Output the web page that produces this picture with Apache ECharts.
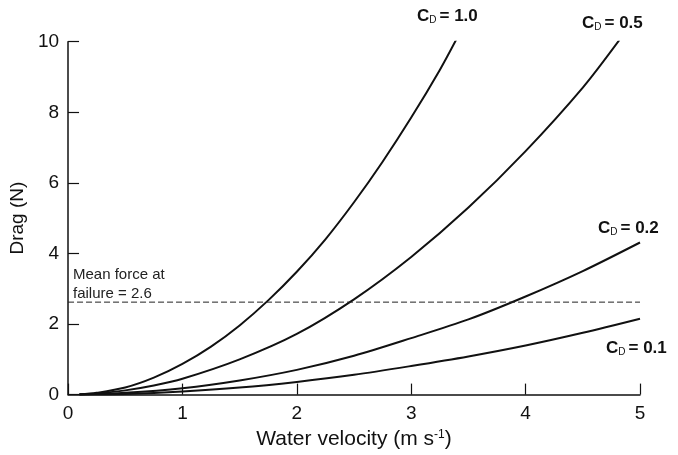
<!DOCTYPE html>
<html><head><meta charset="utf-8">
<script src="https://cdn.jsdelivr.net/npm/echarts@6/dist/echarts.min.js"></script>
<style>html,body{margin:0;padding:0;background:#fff}#c{width:678px;height:455px}</style>
</head><body><div id="c"></div>
<script>
// Data
var cd10 = [[0.1,0],[0.25,0.05],[0.5,0.2],[0.75,0.48],[1.0,0.87],[1.25,1.36],[1.5,1.96],[1.75,2.67],[2.0,3.48],[2.25,4.4],[2.5,5.45],[2.75,6.6],[3.0,7.85],[3.25,9.2],[3.4,10.1]];
var cd05 = [[0.1,0],[0.25,0.03],[0.5,0.12],[0.75,0.26],[1.0,0.45],[1.5,1.0],[2.0,1.72],[2.5,2.7],[3.0,3.9],[3.5,5.3],[4.0,6.9],[4.5,8.7],[4.82,10.05]];
var cd02 = [[0.1,0],[0.5,0.05],[1.0,0.18],[1.5,0.4],[2.0,0.7],[2.5,1.1],[3.0,1.6],[3.5,2.13],[4.0,2.78],[4.5,3.5],[5.0,4.31]];
var cd01 = [[0.1,0],[0.5,0.02],[1.0,0.09],[1.5,0.2],[2.0,0.36],[2.5,0.56],[3.0,0.81],[3.5,1.08],[4.0,1.39],[4.5,1.75],[5.0,2.15]];
var meanForce = 2.62;
var meanLine = [[0, meanForce],[5, meanForce]];
var xTicks = [0,1,2,3,4,5];
var yTicks = [0,2,4,6,8,10];
var curveLabels = ['1.0','0.5','0.2','0.1'];

var chart = echarts.init(document.getElementById('c'));
var font = 'Liberation Sans, Arial, sans-serif';
function lineSeries(d){
  return {type:'line', data:d, smooth:0.3, showSymbol:false, silent:true,
    lineStyle:{color:'#111', width:2}};
}
function cdLabel(txt, left, top){
  return {type:'text', left:left, top:top, style:{
    text:'{c|C}{s|D}{b|= ' + txt + '}', fill:'#111',
    rich:{c:{fontSize:17, fontWeight:'bold', fontFamily:font, fill:'#111', lineHeight:20, verticalAlign:'bottom'},
          s:{fontSize:10, fontFamily:font, fill:'#111', padding:[0,3,0,0], lineHeight:20, verticalAlign:'bottom'},
          b:{fontSize:17, fontWeight:'bold', fontFamily:font, fill:'#111', lineHeight:20, verticalAlign:'bottom'}}}};
}
chart.setOption({
  animation:false,
  backgroundColor:'#fff',
  grid:{left:63.5, right:38, top:41.7, bottom:54.3},
  xAxis:{type:'value', min:0, max:5, interval:1,
    name:'Water velocity (m s{sup|-1})', nameLocation:'middle', nameGap:32,
    nameTextStyle:{fontFamily:font, fontSize:21, color:'#111',
      rich:{sup:{fontSize:12, fontFamily:font, color:'#111', padding:[0,0,10,0]}}},
    axisLine:{lineStyle:{color:'#111', width:1.5}},
    axisTick:{inside:true, length:11, lineStyle:{color:'#111', width:1.2}},
    axisLabel:{fontFamily:font, fontSize:19, color:'#111', margin:10,
      formatter:function(v){return xTicks.indexOf(v)>=0? String(v):'';}},
    splitLine:{show:false}},
  yAxis:{type:'value', min:0, max:10, interval:2,
    name:'Drag (N)', nameLocation:'middle', nameGap:34, nameRotate:90,
    nameTextStyle:{fontFamily:font, fontSize:19, color:'#111'},
    axisLine:{show:true, lineStyle:{color:'#111', width:1.5}},
    axisTick:{show:true, inside:true, length:11, lineStyle:{color:'#111', width:1.2}},
    axisLabel:{fontFamily:font, fontSize:19, color:'#111', margin:9,
      formatter:function(v){return yTicks.indexOf(v)>=0? String(v):'';}},
    splitLine:{show:false}},
  series:[
    lineSeries(cd10), lineSeries(cd05), lineSeries(cd02), lineSeries(cd01),
    {type:'line', data:meanLine, showSymbol:false, silent:true,
      lineStyle:{color:'#222', width:1, type:[6,3]}}
  ],
  graphic:[
    cdLabel(curveLabels[0], 417, 8),
    cdLabel(curveLabels[1], 582, 15),
    cdLabel(curveLabels[2], 598, 220),
    cdLabel(curveLabels[3], 606, 340),
    {type:'text', left:73, top:265, style:{text:'Mean force at\nfailure = 2.6',
      font:'15px ' + font, fill:'#222', lineHeight:19}}
  ]
});
</script></body></html>
